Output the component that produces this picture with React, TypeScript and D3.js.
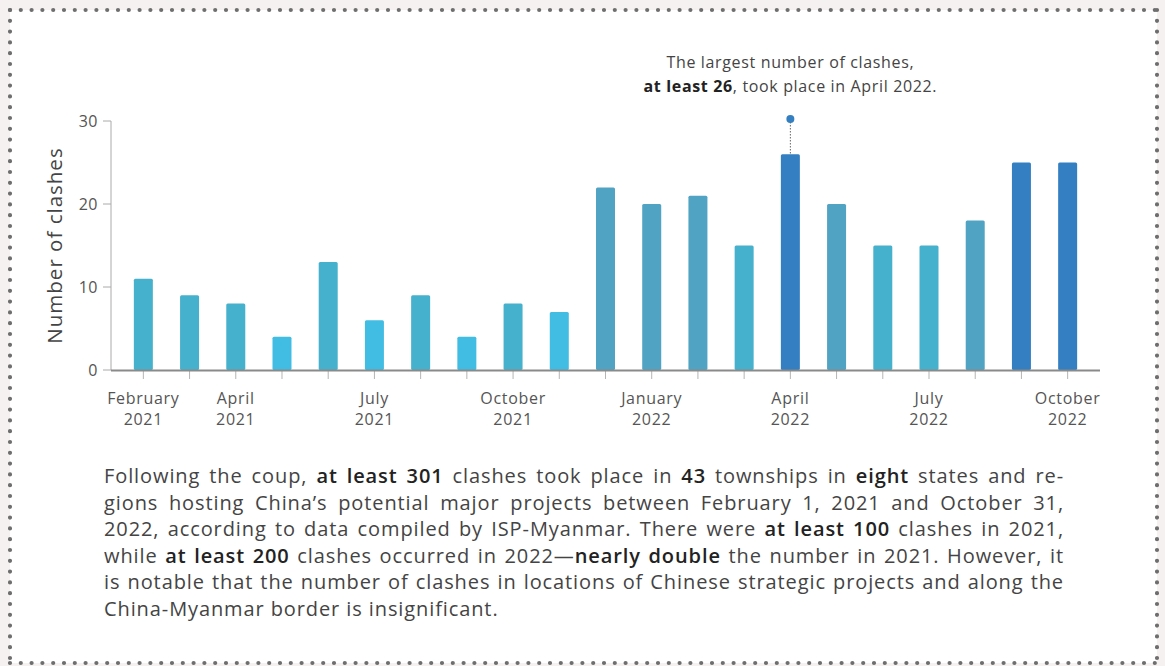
import React from "react";
import * as d3 from "d3";

const months = [
  "Feb 2021", "Mar 2021", "Apr 2021", "May 2021", "Jun 2021", "Jul 2021", "Aug 2021",
  "Sep 2021", "Oct 2021", "Nov 2021", "Dec 2021", "Jan 2022", "Feb 2022", "Mar 2022",
  "Apr 2022", "May 2022", "Jun 2022", "Jul 2022", "Aug 2022", "Sep 2022", "Oct 2022",
];
const clashes = [11, 9, 8, 4, 13, 6, 9, 4, 8, 7, 22, 20, 21, 15, 26, 20, 15, 15, 18, 25, 25];
const tickLabels: { month: string; line1: string; line2: string }[] = [
  { month: "Feb 2021", line1: "February", line2: "2021" },
  { month: "Apr 2021", line1: "April", line2: "2021" },
  { month: "Jul 2021", line1: "July", line2: "2021" },
  { month: "Oct 2021", line1: "October", line2: "2021" },
  { month: "Jan 2022", line1: "January", line2: "2022" },
  { month: "Apr 2022", line1: "April", line2: "2022" },
  { month: "Jul 2022", line1: "July", line2: "2022" },
  { month: "Oct 2022", line1: "October", line2: "2022" },
];
const yTicks = [0, 10, 20, 30];
const colorThresholds = [8, 16, 24];
const colorRange = ["#41bce3", "#46b1cd", "#51a3c3", "#337fc1"];

const paragraph: { text: string; bold?: boolean }[][] = [
  [{ text: "Following the coup, " }, { text: "at least 301", bold: true }, { text: " clashes took place in " }, { text: "43", bold: true }, { text: " townships in " }, { text: "eight", bold: true }, { text: " states and re-" }],
  [{ text: "gions hosting China’s potential major projects between February 1, 2021 and October 31," }],
  [{ text: "2022, according to data compiled by ISP-Myanmar. There were " }, { text: "at least 100", bold: true }, { text: " clashes in 2021," }],
  [{ text: "while " }, { text: "at least 200", bold: true }, { text: " clashes occurred in 2022—" }, { text: "nearly double", bold: true }, { text: " the number in 2021. However, it" }],
  [{ text: "is notable that the number of clashes in locations of Chinese strategic projects and along the" }],
  [{ text: "China-Myanmar border is insignificant." }],
];

const W = 1165;
const H = 666;
const FONT = "'Open Sans', Lato, sans-serif";

export default function App() {
  const x = d3.scalePoint<string>().domain(months).range([111, 1100]).padding(0.7);
  const y = d3.scaleLinear().domain([0, 30]).range([370, 121]);
  const color = d3.scaleThreshold<number, string>().domain(colorThresholds).range(colorRange);
  const barW = 19;
  const maxIdx = clashes.indexOf(d3.max(clashes) as number);
  const maxX = x(months[maxIdx]) as number;

  return (
    <svg width={W} height={H} style={{ position: "absolute", left: 0, top: 0, display: "block" }}>
      <rect x={0} y={0} width={W} height={H} fill="#f5f1f0" />
      <rect x={10} y={10} width={1147} height={653} fill="#ffffff" />
      <g stroke="#6e6e6e" strokeWidth={4.2} strokeLinecap="round" strokeDasharray="0 10.8" fill="none">
        <line x1={10} y1={10} x2={1157} y2={10} />
        <line x1={10} y1={10} x2={10} y2={663} />
        <line x1={10} y1={663} x2={1157} y2={663} />
        <line x1={1157} y1={10} x2={1157} y2={663} />
      </g>

      {/* y axis */}
      <line x1={111} x2={111} y1={y(30)} y2={y(0)} stroke="#aaaaaa" strokeWidth={1} />
      {yTicks.map((t) => (
        <g key={t}>
          <line x1={103} x2={111} y1={y(t)} y2={y(t)} stroke="#aaaaaa" strokeWidth={1} />
          <text x={98} y={y(t)} dy="0.35em" textAnchor="end" fontFamily={FONT} fontSize={16} letterSpacing={0.5} fill="#555">
            {t}
          </text>
        </g>
      ))}
      <text
        transform={`translate(62,${(y(0) + y(30)) / 2}) rotate(-90)`}
        textAnchor="middle"
        fontFamily={FONT}
        fontSize={20.5}
        letterSpacing={1}
        fill="#444"
      >
        Number of clashes
      </text>

      {/* bars */}
      {clashes.map((v, i) => (
        <rect
          key={months[i]}
          x={(x(months[i]) as number) - barW / 2}
          y={y(v)}
          width={barW}
          height={y(0) - y(v)}
          rx={1.5}
          fill={color(v)}
        />
      ))}

      {/* x ticks */}
      {months.map((m) => (
        <line key={m} x1={x(m) as number} x2={x(m) as number} y1={371} y2={379} stroke="#b5b5b5" strokeWidth={1} />
      ))}
      <line x1={111} x2={1100} y1={y(0) + 0.5} y2={y(0) + 0.5} stroke="#8a8a8a" strokeWidth={2} />
      {tickLabels.map((t) => (
        <text key={t.month} x={x(t.month) as number} y={404} textAnchor="middle" fontFamily={FONT} fontSize={16} letterSpacing={0.7} fill="#555">
          <tspan x={x(t.month) as number}>{t.line1}</tspan>
          <tspan x={x(t.month) as number} dy={21}>{t.line2}</tspan>
        </text>
      ))}

      {/* annotation */}
      <line x1={maxX} x2={maxX} y1={119} y2={y(clashes[maxIdx])} stroke="#666" strokeWidth={1} strokeDasharray="1.5 1.5" />
      <circle cx={maxX} cy={119} r={4} fill="#337fc1" />
      <text x={maxX} y={68} textAnchor="middle" fontFamily={FONT} fontSize={16} letterSpacing={0.65} fill="#444">
        The largest number of clashes,
      </text>
      <text x={maxX} y={92} textAnchor="middle" fontFamily={FONT} fontSize={16} letterSpacing={0.65} fill="#444">
        <tspan fontWeight={700} fill="#222">at least 26</tspan>, took place in April 2022.
      </text>

      {/* paragraph */}
      <foreignObject x={104} y={463} width={960} height={170}>
        <div
          style={{
            fontFamily: FONT,
            fontSize: "20px",
            lineHeight: "26.5px",
            letterSpacing: "0.9px",
            color: "#444",
            width: "960px",
          }}
        >
          {paragraph.map((line, li) => (
            <div
              key={li}
              style={{
                textAlign: "justify",
                textAlignLast: li < paragraph.length - 1 ? "justify" : "left",
                whiteSpace: "nowrap",
              }}
            >
              {line.map((seg, si) =>
                seg.bold ? (
                  <span key={si} style={{ color: "#222", fontWeight: 600 }}>{seg.text}</span>
                ) : (
                  <span key={si}>{seg.text}</span>
                )
              )}
            </div>
          ))}
        </div>
      </foreignObject>
    </svg>
  );
}
